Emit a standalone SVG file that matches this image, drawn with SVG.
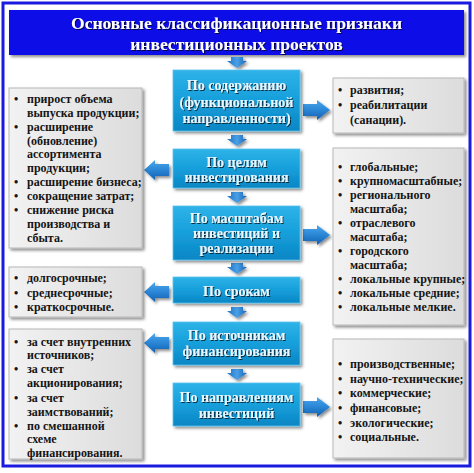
<svg xmlns="http://www.w3.org/2000/svg" width="474" height="473" viewBox="0 0 474 473">
<defs>
<linearGradient id="gBlue" x1="0" y1="0" x2="0" y2="1">
<stop offset="0" stop-color="#2fb3e8"/>
<stop offset="0.5" stop-color="#169fdb"/>
<stop offset="1" stop-color="#0b86c4"/>
</linearGradient>
<linearGradient id="gGray" x1="0" y1="0" x2="1" y2="0">
<stop offset="0" stop-color="#f2f2f2"/>
<stop offset="1" stop-color="#dcdcdc"/>
</linearGradient>
<linearGradient id="gArrV" x1="0" y1="0" x2="1" y2="0">
<stop offset="0" stop-color="#1c6fc4"/>
<stop offset="0.5" stop-color="#4aa0e6"/>
<stop offset="1" stop-color="#1563b5"/>
</linearGradient>
<linearGradient id="gArrH" x1="0" y1="0" x2="0" y2="1">
<stop offset="0" stop-color="#4aa6ea"/>
<stop offset="0.5" stop-color="#2b86d6"/>
<stop offset="1" stop-color="#125fb0"/>
</linearGradient>
<filter id="sh" x="-10%" y="-10%" width="130%" height="130%">
<feDropShadow dx="2" dy="2" stdDeviation="1.5" flood-color="#000" flood-opacity="0.45"/>
</filter>
<filter id="tsh" x="-5%" y="-20%" width="110%" height="150%">
<feDropShadow dx="1" dy="1" stdDeviation="0.6" flood-color="#000" flood-opacity="0.7"/>
</filter>
</defs>
<style>
.frame{fill:#ffffff;stroke:#1a1ae0;stroke-width:3}
.title{fill:#0808e8}
.tt{font-family:"Liberation Serif","DejaVu Serif",serif;font-weight:bold;font-size:17.5px;fill:#ffffff;text-anchor:middle}
.cbox{fill:url(#gBlue);stroke:#5cc4ee;stroke-width:0.8}
.ct{font-family:"Liberation Serif","DejaVu Serif",serif;font-weight:bold;font-size:14px;fill:#eaf6ff;text-anchor:middle}
.sbox{fill:url(#gGray);stroke:#b8b8b8;stroke-width:1}
.st{font-family:"Liberation Serif","DejaVu Serif",serif;font-weight:bold;font-size:12px;fill:#141414}
.av{fill:url(#gArrV)}
.ah{fill:url(#gArrH)}
</style>
<rect x="0" y="0" width="474" height="473" fill="#ffffff"/>
<rect class="frame" x="3" y="3" width="467" height="463"/>

<g id="title" filter="url(#sh)">
<rect class="title" x="9" y="10" width="455" height="45"/>
</g>
<g id="title-text" filter="url(#tsh)">
<text class="tt" x="236.5" y="29">Основные классификационные признаки</text>
<text class="tt" x="236.5" y="50">инвестиционных проектов</text>
</g>

<g id="connectors" filter="url(#sh)">
<path class="av" d="M231,57 L243,57 L243,61 L247,61 L237,68 L227,61 L231,61 Z"/>
<path class="av" d="M231,135 L243,135 L243,139 L247,139 L237,146 L227,139 L231,139 Z"/>
<path class="av" d="M231,192 L243,192 L243,196 L247,196 L237,203 L227,196 L231,196 Z"/>
<path class="av" d="M231,263 L243,263 L243,267 L247,267 L237,274 L227,267 L231,267 Z"/>
<path class="av" d="M231,307 L243,307 L243,311 L247,311 L237,318 L227,311 L231,311 Z"/>
<path class="av" d="M231,369 L243,369 L243,373 L247,373 L237,380 L227,373 L231,373 Z"/>
<path class="ah" d="M303,104 L317,104 L317,100 L330,110 L317,120 L317,116 L303,116 Z"/>
<path class="ah" d="M303,229 L317,229 L317,225 L330,235 L317,245 L317,241 L303,241 Z"/>
<path class="ah" d="M303,401 L317,401 L317,397 L330,407 L317,417 L317,413 L303,413 Z"/>
<path class="ah" d="M169,164 L155,164 L155,160 L144,170 L155,180 L155,176 L169,176 Z"/>
<path class="ah" d="M169,286 L155,286 L155,282 L144,292 L155,302 L155,298 L169,298 Z"/>
<path class="ah" d="M169,337 L155,337 L155,333 L144,343 L155,353 L155,349 L169,349 Z"/>
</g>

<g id="c1">
<rect class="cbox" x="173" y="70" width="127" height="61" filter="url(#sh)"/>
<g filter="url(#tsh)">
<text class="ct" x="236.5" y="90">По содержанию</text>
<text class="ct" x="236.5" y="107">(функциональной</text>
<text class="ct" x="236.5" y="123">направленности)</text>
</g>
</g>
<g id="c2">
<rect class="cbox" x="173" y="149" width="127" height="39" filter="url(#sh)"/>
<g filter="url(#tsh)">
<text class="ct" x="236.5" y="167">По целям</text>
<text class="ct" x="236.5" y="182">инвестирования</text>
</g>
</g>
<g id="c3">
<rect class="cbox" x="173" y="206" width="127" height="54" filter="url(#sh)"/>
<g filter="url(#tsh)">
<text class="ct" x="236.5" y="223">По масштабам</text>
<text class="ct" x="236.5" y="238">инвестиций и</text>
<text class="ct" x="236.5" y="253">реализации</text>
</g>
</g>
<g id="c4">
<rect class="cbox" x="173" y="277" width="127" height="26" filter="url(#sh)"/>
<g filter="url(#tsh)">
<text class="ct" x="236.5" y="296">По срокам</text>
</g>
</g>
<g id="c5">
<rect class="cbox" x="173" y="322" width="127" height="43" filter="url(#sh)"/>
<g filter="url(#tsh)">
<text class="ct" x="236.5" y="340">По источникам</text>
<text class="ct" x="236.5" y="356">финансирования</text>
</g>
</g>
<g id="c6">
<rect class="cbox" x="173" y="383" width="127" height="43" filter="url(#sh)"/>
<g filter="url(#tsh)">
<text class="ct" x="236.5" y="402">По направлениям</text>
<text class="ct" x="236.5" y="418">инвестиций</text>
</g>
</g>

<g id="l1">
<rect class="sbox" x="9" y="88" width="133" height="160" filter="url(#sh)"/>
<text class="st" x="14" y="103">•</text>
<text class="st" x="27" y="103">прирост объема</text>
<text class="st" x="27" y="117">выпуска продукции;</text>
<text class="st" x="14" y="131">•</text>
<text class="st" x="27" y="131">расширение</text>
<text class="st" x="27" y="145">(обновление)</text>
<text class="st" x="27" y="158">ассортимента</text>
<text class="st" x="27" y="172">продукции;</text>
<text class="st" x="14" y="186">•</text>
<text class="st" x="27" y="186">расширение бизнеса;</text>
<text class="st" x="14" y="200">•</text>
<text class="st" x="27" y="200">сокращение затрат;</text>
<text class="st" x="14" y="214">•</text>
<text class="st" x="27" y="214">снижение риска</text>
<text class="st" x="27" y="228">производства и</text>
<text class="st" x="27" y="242">сбыта.</text>
</g>
<g id="l2">
<rect class="sbox" x="9" y="267" width="133" height="50" filter="url(#sh)"/>
<text class="st" x="14" y="282">•</text>
<text class="st" x="27" y="282">долгосрочные;</text>
<text class="st" x="14" y="297">•</text>
<text class="st" x="27" y="297">среднесрочные;</text>
<text class="st" x="14" y="311">•</text>
<text class="st" x="27" y="311">краткосрочные.</text>
</g>
<g id="l3">
<rect class="sbox" x="9" y="329" width="133" height="130" filter="url(#sh)"/>
<text class="st" x="14" y="346">•</text>
<text class="st" x="27" y="346">за счет внутренних</text>
<text class="st" x="27" y="359">источников;</text>
<text class="st" x="14" y="373">•</text>
<text class="st" x="27" y="373">за счет</text>
<text class="st" x="27" y="387">акционирования;</text>
<text class="st" x="14" y="402">•</text>
<text class="st" x="27" y="402">за счет</text>
<text class="st" x="27" y="416">заимствований;</text>
<text class="st" x="14" y="430">•</text>
<text class="st" x="27" y="430">по смешанной</text>
<text class="st" x="27" y="443">схеме</text>
<text class="st" x="27" y="457">финансирования.</text>
</g>
<g id="r1">
<rect class="sbox" x="333" y="78" width="131" height="55" filter="url(#sh)"/>
<text class="st" x="338" y="94">•</text>
<text class="st" x="350" y="94">развития;</text>
<text class="st" x="338" y="109">•</text>
<text class="st" x="350" y="109">реабилитации</text>
<text class="st" x="350" y="124">(санации).</text>
</g>
<g id="r2">
<rect class="sbox" x="333" y="148" width="131" height="177" filter="url(#sh)"/>
<text class="st" x="338" y="171">•</text>
<text class="st" x="350" y="171">глобальные;</text>
<text class="st" x="338" y="185">•</text>
<text class="st" x="350" y="185">крупномасштабные;</text>
<text class="st" x="338" y="199">•</text>
<text class="st" x="350" y="199">регионального</text>
<text class="st" x="350" y="213">масштаба;</text>
<text class="st" x="338" y="227">•</text>
<text class="st" x="350" y="227">отраслевого</text>
<text class="st" x="350" y="241">масштаба;</text>
<text class="st" x="338" y="255">•</text>
<text class="st" x="350" y="255">городского</text>
<text class="st" x="350" y="269">масштаба;</text>
<text class="st" x="338" y="283">•</text>
<text class="st" x="350" y="283">локальные крупные;</text>
<text class="st" x="338" y="297">•</text>
<text class="st" x="350" y="297">локальные средние;</text>
<text class="st" x="338" y="311">•</text>
<text class="st" x="350" y="311">локальные мелкие.</text>
</g>
<g id="r3">
<rect class="sbox" x="333" y="339" width="131" height="119" filter="url(#sh)"/>
<text class="st" x="338" y="368">•</text>
<text class="st" x="350" y="368">производственные;</text>
<text class="st" x="338" y="383">•</text>
<text class="st" x="350" y="383">научно-технические;</text>
<text class="st" x="338" y="397">•</text>
<text class="st" x="350" y="397">коммерческие;</text>
<text class="st" x="338" y="412">•</text>
<text class="st" x="350" y="412">финансовые;</text>
<text class="st" x="338" y="427">•</text>
<text class="st" x="350" y="427">экологические;</text>
<text class="st" x="338" y="441">•</text>
<text class="st" x="350" y="441">социальные.</text>
</g>
</svg>
